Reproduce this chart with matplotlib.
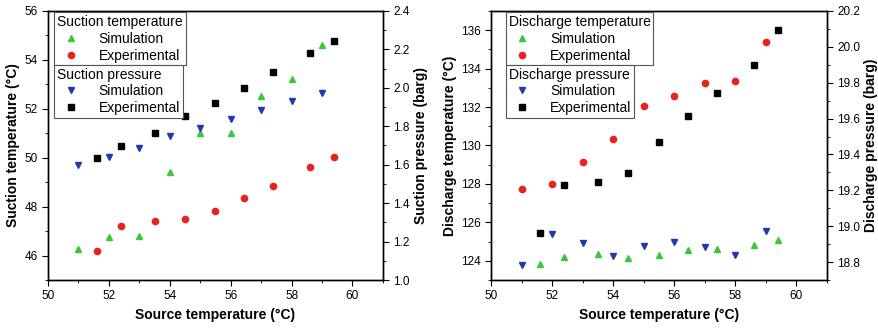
import matplotlib
matplotlib.use("Agg")
import matplotlib.pyplot as plt
from matplotlib.ticker import MultipleLocator
from matplotlib.lines import Line2D

plt.rcParams['font.family'] = ['Liberation Sans', 'DejaVu Sans']

# source temperatures (two sets of test points)
src_a = [51, 52, 53, 54, 55, 56, 57, 58, 59]
src_b = [51.6, 52.4, 53.5, 54.5, 55.5, 56.45, 57.4, 58.6, 59.4]

# suction side
suc_temp_sim = [46.26, 46.75, 46.8, 49.4, 51.0, 51.03, 52.53, 53.2, 54.6]
suc_temp_exp = [46.2, 47.22, 47.43, 47.48, 47.82, 48.37, 48.84, 49.6, 50.04]
suc_pres_sim = [1.598, 1.641, 1.689, 1.748, 1.792, 1.84, 1.884, 1.932, 1.974]
suc_pres_exp = [1.637, 1.696, 1.766, 1.854, 1.923, 2.0, 2.083, 2.183, 2.244]

# discharge side
dis_temp_sim = [123.83, 124.22, 124.36, 124.13, 124.31, 124.54, 124.6, 124.84, 125.1]
dis_temp_exp = [127.72, 127.98, 129.13, 130.32, 132.05, 132.59, 133.26, 133.38, 135.36]
dis_pres_sim = [18.781, 18.957, 18.905, 18.835, 18.89, 18.911, 18.886, 18.838, 18.976]
dis_pres_exp = [18.964, 19.23, 19.248, 19.296, 19.471, 19.616, 19.74, 19.90, 20.096]

GREEN = '#3cc63c'
RED = '#e8231e'
BLUE = '#2538b2'
BLACK = '#000000'
MS = 4.5
FS_LAB = 10
FS_TICK = 8.5
FS_LEG = 10


def style_axis(ax):
    ax.tick_params(which='both', direction='out', labelsize=FS_TICK, top=False)
    ax.tick_params(which='major', length=4)
    ax.tick_params(which='minor', length=2)
    for s in ax.spines.values():
        s.set_linewidth(1.0)


def make_legends(ax, title1, title2, x0):
    h1 = [Line2D([], [], ls='none', marker='^', color=GREEN, ms=MS),
          Line2D([], [], ls='none', marker='o', color=RED, ms=MS)]
    h2 = [Line2D([], [], ls='none', marker='v', color=BLUE, ms=MS),
          Line2D([], [], ls='none', marker='s', color=BLACK, ms=MS)]
    kw = dict(loc='upper left', fontsize=FS_LEG, title_fontsize=FS_LEG, fancybox=False,
              framealpha=1, edgecolor='#555555', borderaxespad=0, borderpad=0.2,
              labelspacing=0.2, handletextpad=1.0, handlelength=2.0, alignment='left')
    leg1 = ax.legend(h1, ['Simulation', 'Experimental'], title=title1,
                     bbox_to_anchor=(x0, 0.995), **kw)
    leg1.get_frame().set_linewidth(0.8)
    ax.add_artist(leg1)
    leg2 = ax.legend(h2, ['Simulation', 'Experimental'], title=title2,
                     bbox_to_anchor=(x0, 0.80), **kw)
    leg2.get_frame().set_linewidth(0.8)


fig = plt.figure(figsize=(8.79, 3.31), dpi=100)

# --- left panel: suction ---
ax1 = fig.add_axes([0.0546, 0.154, 0.381, 0.813])
ax1b = ax1.twinx()
ax1.plot(src_a, suc_temp_sim, ls='none', marker='^', color=GREEN, ms=MS)
ax1.plot(src_b, suc_temp_exp, ls='none', marker='o', color=RED, ms=MS)
ax1b.plot(src_a, suc_pres_sim, ls='none', marker='v', color=BLUE, ms=MS)
ax1b.plot(src_b, suc_pres_exp, ls='none', marker='s', color=BLACK, ms=MS)
ax1.set_xlim(50, 61)
ax1.set_ylim(45, 56)
ax1b.set_ylim(1.0, 2.4)
ax1.xaxis.set_major_locator(MultipleLocator(2))
ax1.xaxis.set_minor_locator(MultipleLocator(1))
ax1.yaxis.set_major_locator(MultipleLocator(2))
ax1.yaxis.set_minor_locator(MultipleLocator(1))
ax1b.yaxis.set_major_locator(MultipleLocator(0.2))
ax1b.yaxis.set_minor_locator(MultipleLocator(0.1))
ax1.set_xlabel('Source temperature (°C)', fontsize=FS_LAB, fontweight='bold')
ax1.set_ylabel('Suction temperature (°C)', fontsize=FS_LAB, fontweight='bold', labelpad=3)
ax1b.set_ylabel('Suction pressure (barg)', fontsize=FS_LAB, fontweight='bold', labelpad=3)
style_axis(ax1)
style_axis(ax1b)
make_legends(ax1b, 'Suction temperature', 'Suction pressure', 0.019)

# --- right panel: discharge ---
ax2 = fig.add_axes([0.5586, 0.154, 0.382, 0.813])
ax2b = ax2.twinx()
ax2.plot(src_b, dis_temp_sim, ls='none', marker='^', color=GREEN, ms=MS)
ax2.plot(src_a, dis_temp_exp, ls='none', marker='o', color=RED, ms=MS)
ax2b.plot(src_a, dis_pres_sim, ls='none', marker='v', color=BLUE, ms=MS)
ax2b.plot(src_b, dis_pres_exp, ls='none', marker='s', color=BLACK, ms=MS)
ax2.set_xlim(50, 61)
ax2.set_ylim(123, 137)
ax2b.set_ylim(18.7, 20.2)
ax2.xaxis.set_major_locator(MultipleLocator(2))
ax2.xaxis.set_minor_locator(MultipleLocator(1))
ax2.yaxis.set_major_locator(MultipleLocator(2))
ax2.yaxis.set_minor_locator(MultipleLocator(1))
ax2b.yaxis.set_major_locator(MultipleLocator(0.2))
ax2b.yaxis.set_minor_locator(MultipleLocator(0.1))
ax2.set_xlabel('Source temperature (°C)', fontsize=FS_LAB, fontweight='bold')
ax2.set_ylabel('Discharge temperature (°C)', fontsize=FS_LAB, fontweight='bold', labelpad=3)
ax2b.set_ylabel('Discharge pressure (barg)', fontsize=FS_LAB, fontweight='bold', labelpad=3)
style_axis(ax2)
style_axis(ax2b)
make_legends(ax2b, 'Discharge temperature', 'Discharge pressure', 0.044)

fig.savefig('out.png', dpi=100)
